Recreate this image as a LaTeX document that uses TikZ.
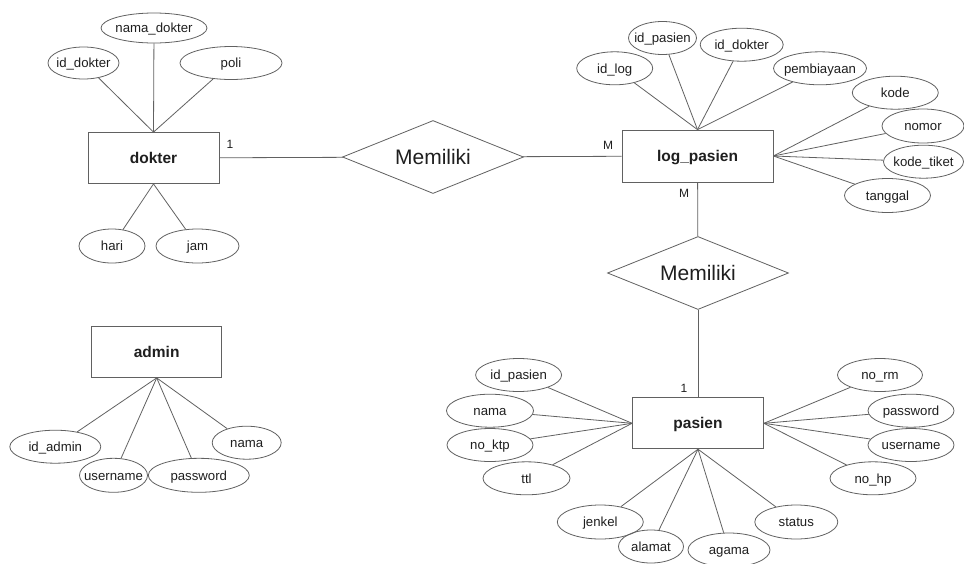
\documentclass[tikz,border=0pt]{standalone}
\usepackage{fontspec}
\setmainfont{Liberation Sans}
\usetikzlibrary{shapes.geometric}
\newcommand\zw[1]{\makebox[0pt]{#1}}
\definecolor{ln}{gray}{0.38}
\definecolor{tx}{gray}{0.12}
\tikzset{
  entity/.style={draw=ln, line width=0.8pt, rectangle, minimum width=131pt, minimum height=51pt, inner sep=0pt, text=tx, text height=11.1pt, text depth=0pt, font=\bfseries\fontsize{15.5}{18}\selectfont},
  attr/.style={draw=ln, line width=0.8pt, ellipse, inner sep=0pt, text=tx, text height=9.4pt, text depth=0pt, font=\fontsize{13.2}{15}\selectfont},
  rel/.style={draw=ln, line width=0.8pt, diamond, aspect=2.47, minimum width=181pt, minimum height=73pt, inner sep=0pt, text=tx, text height=15pt, text depth=0pt, font=\fontsize{21}{24}\selectfont},
  card/.style={text=tx, inner sep=0pt, font=\fontsize{12}{14}\selectfont},
  link/.style={draw=ln, line width=0.8pt}
}
\begin{document}
\begin{tikzpicture}[x=1pt,y=-1pt]
\useasboundingbox[fill=white] (0,0) rectangle (964,563);
% dokter
\node[entity] (dokter) at (153.5,158) {dokter};
\node[attr, minimum width=106pt, minimum height=30pt] (nmdok) at (154,28) {\zw{nama\_dokter}};
\node[attr, minimum width=71pt, minimum height=32pt] (iddok) at (83.5,63) {\zw{id\_dokter}};
\node[attr, minimum width=102pt, minimum height=33pt] (poli) at (231,63) {\zw{poli}};
\node[attr, minimum width=66pt, minimum height=34pt] (hari) at (112,246) {\zw{hari}};
\node[attr, minimum width=83pt, minimum height=34pt] (jam) at (197.5,246) {\zw{jam}};
\node[card] (c1) at (230,144) {1};
% relation 1
\node[rel] (r1) at (433,157) {Memiliki};
\node[card] (c2) at (608,145) {M};
% log_pasien
\node[entity, minimum width=151pt, minimum height=52pt] (log) at (697.5,156) {log\_pasien};
\node[attr, minimum width=76pt, minimum height=33pt] (idlog) at (614.7,68.3) {\zw{id\_log}};
\node[attr, minimum width=68pt, minimum height=33pt] (lidp) at (662.5,38) {\zw{id\_pasien}};
\node[attr, minimum width=83pt, minimum height=33pt] (lidd) at (741.7,44.7) {\zw{id\_dokter}};
\node[attr, minimum width=93pt, minimum height=33pt] (pemb) at (820,68.3) {\zw{pembiayaan}};
\node[attr, minimum width=86pt, minimum height=33pt] (kode) at (895.3,92.7) {\zw{kode}};
\node[attr, minimum width=82pt, minimum height=34pt] (nomor) at (923,126) {\zw{nomor}};
\node[attr, minimum width=80pt, minimum height=33pt] (ktik) at (923.5,161.7) {\zw{kode\_tiket}};
\node[attr, minimum width=86pt, minimum height=34pt] (tgl) at (887.5,195.5) {\zw{tanggal}};
\node[card] (c3) at (684,193) {M};
% relation 2
\node[rel] (r2) at (698,273) {Memiliki};
\node[card] (c4) at (684,388) {1};
% pasien
\node[entity] (pasien) at (698,423.3) {pasien};
\node[attr, minimum width=86pt, minimum height=33pt] (pidp) at (518.6,375) {\zw{id\_pasien}};
\node[attr, minimum width=87pt, minimum height=33pt] (pnama) at (490,410.7) {\zw{nama}};
\node[attr, minimum width=86pt, minimum height=33pt] (pktp) at (490,445) {\zw{no\_ktp}};
\node[attr, minimum width=87pt, minimum height=33pt] (pttl) at (526.5,478.3) {\zw{ttl}};
\node[attr, minimum width=86pt, minimum height=34pt] (pjk) at (600.3,522) {\zw{jenkel}};
\node[attr, minimum width=65pt, minimum height=33pt] (palm) at (651,546.5) {\zw{alamat}};
\node[attr, minimum width=82pt, minimum height=34pt] (pag) at (729,550) {\zw{agama}};
\node[attr, minimum width=83pt, minimum height=34pt] (pst) at (796.3,522) {\zw{status}};
\node[attr, minimum width=85pt, minimum height=33pt] (prm) at (880,375) {\zw{no\_rm}};
\node[attr, minimum width=86pt, minimum height=33pt] (ppw) at (911,410.7) {\zw{password}};
\node[attr, minimum width=86pt, minimum height=33pt] (pun) at (911,445) {\zw{username}};
\node[attr, minimum width=86pt, minimum height=33pt] (php) at (873,478.3) {\zw{no\_hp}};
% admin
\node[entity, minimum width=130pt] (admin) at (156.7,352) {admin};
\node[attr, minimum width=91pt, minimum height=33pt] (aid) at (55.3,446.7) {\zw{id\_admin}};
\node[attr, minimum width=68pt, minimum height=34pt] (aun) at (113.5,475.3) {\zw{username}};
\node[attr, minimum width=101pt, minimum height=34pt] (apw) at (198.8,475.3) {\zw{password}};
\node[attr, minimum width=69pt, minimum height=33pt] (anm) at (246.7,442.7) {\zw{nama}};
% connectors
\draw[link] (dokter) -- (r1);
\draw[link] (r1) -- (log);
\draw[link] (log) -- (r2);
\draw[link] (r2) -- (pasien);
\foreach \a in {nmdok,iddok,poli} \draw[link] (\a) -- (dokter.north);
\foreach \a in {hari,jam} \draw[link] (\a) -- (dokter.south);
\foreach \a in {idlog,lidp,lidd,pemb} \draw[link] (\a) -- (log.north);
\foreach \a in {kode,nomor,ktik,tgl} \draw[link] (\a) -- (log.east);
\foreach \a in {pidp,pnama,pktp,pttl} \draw[link] (\a) -- (pasien.west);
\foreach \a in {prm,ppw,pun,php} \draw[link] (\a) -- (pasien.east);
\foreach \a in {pjk,palm,pag,pst} \draw[link] (\a) -- (pasien.south);
\foreach \a in {aid,aun,apw,anm} \draw[link] (\a) -- (admin.south);
\end{tikzpicture}
\end{document}
